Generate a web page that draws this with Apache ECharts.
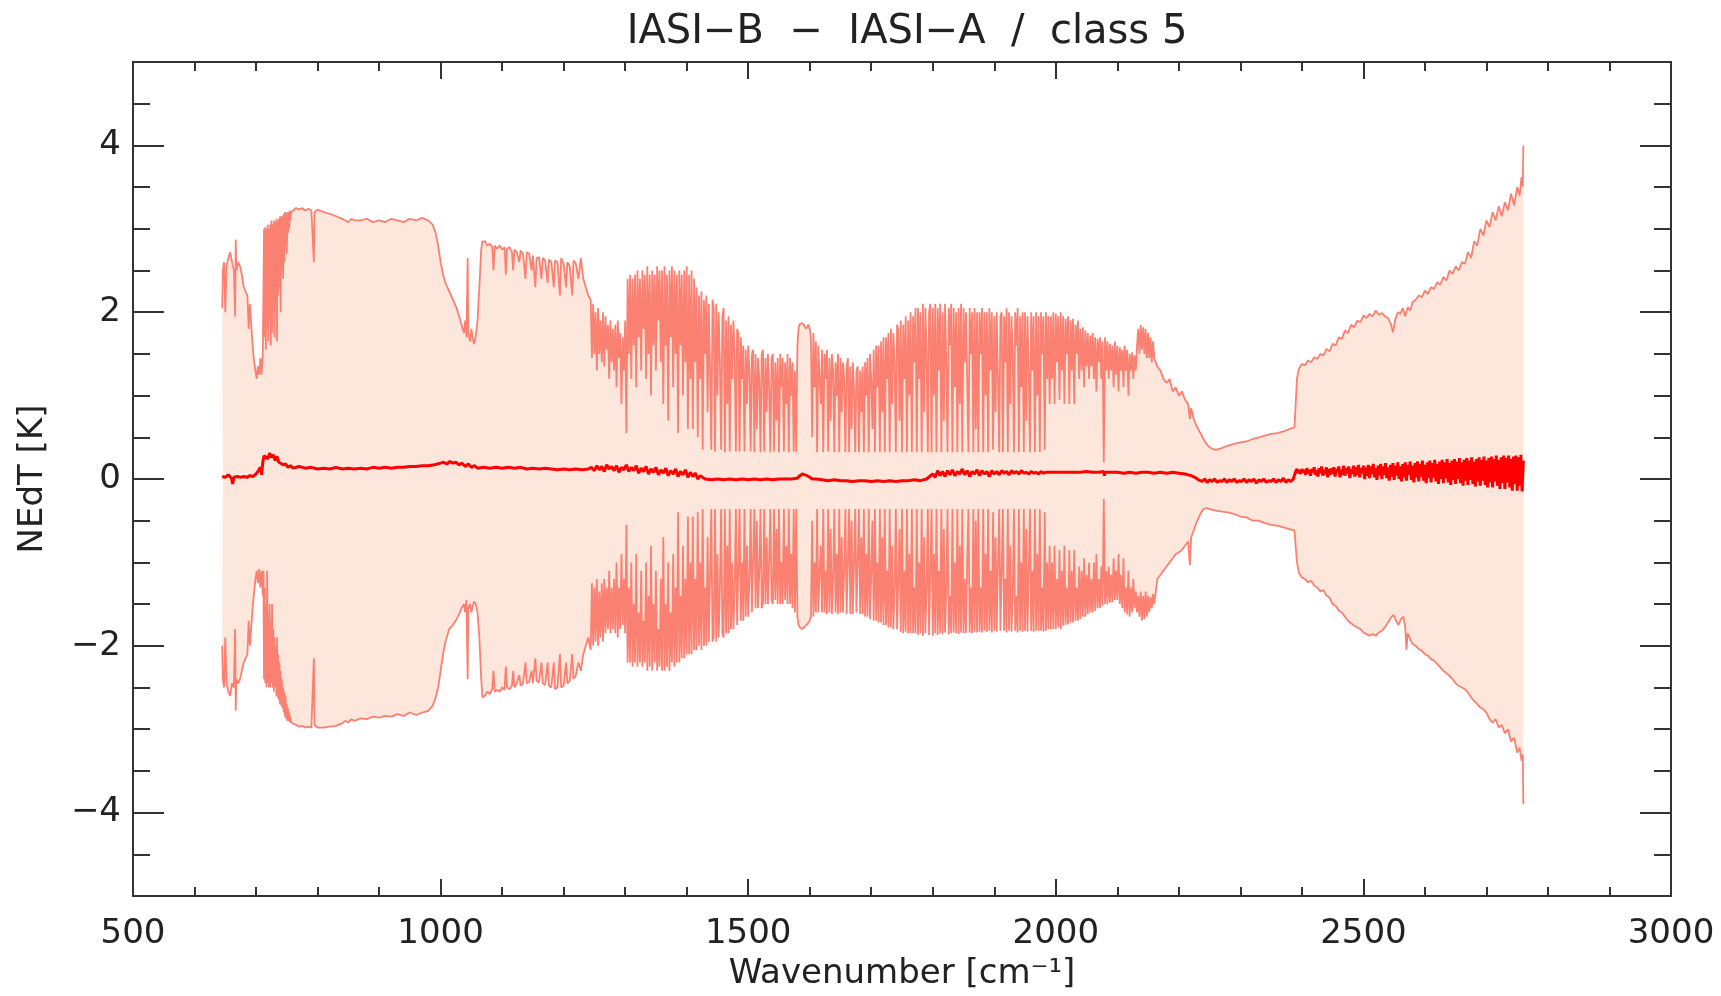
<!DOCTYPE html>
<html>
<head>
<meta charset="utf-8">
<title>IASI-B - IASI-A / class 5</title>
<script src="https://cdn.jsdelivr.net/npm/echarts@6/dist/echarts.min.js"></script>
<style>
  html, body { margin: 0; padding: 0; background: #fff; }
  #chart { width: 1721px; height: 996px; }
</style>
</head>
<body>
<div id="chart"></div>
<script>
// NEdT [K] against wavenumber [cm-1].
// smooth stretches are [x, y] pairs, dense line bands are y lists on a fixed wavenumber grid

var upperA = [
  [645,2.05],[646,2.5],[648,2.6],[650,2.0],[652,2.55],[655,2.65],[658,2.72],[661,2.6],[664,2.5],[666,1.95],[667,2.87],[668,2.5],[671,2.6],[674,2.55],[677,2.45],[680,2.3],[683,2.25],[686,2.2],[688,1.8],[690,2.1],[693,1.75],[695,1.55],[697,1.4],[699,1.3],[701,1.2],[703,1.35],[705,1.25],[707,1.45],[709,1.25],[711,1.5]
];
// 712..758, step 1
var upperBand1 = [
  1.5,3.0,1.7,3.02,1.55,3.0,1.8,3.05,1.65,3.0,
  1.9,3.05,1.6,3.1,1.75,3.05,2.0,3.1,1.7,3.08,
  2.1,3.12,1.65,3.1,2.2,3.12,2.3,3.15,2.0,3.15,
  2.5,3.15,2.4,3.18,2.6,3.2,2.8,3.18,2.7,3.2,
  2.95,3.2,3.0,3.22,3.1,3.2,3.22
];
var upperB = [
  [760,3.2],[765,3.25],[770,3.23],[775,3.25],[780,3.22],[785,3.24],[790,3.22],[793,3.2],[794,2.6],[795,3.2],[800,3.23],[810,3.2],[820,3.18],[830,3.15],[840,3.12],[845,3.1],[850,3.08],[855,3.12],[860,3.1],[870,3.1],[880,3.12],[890,3.08],[900,3.1],[910,3.08],[920,3.12],[930,3.1],[940,3.08],[950,3.12],[960,3.1],[970,3.13],[980,3.1],[987,3.05],
  [992,2.95],[996,2.8],[1000,2.6],[1004,2.45],[1008,2.35],[1014,2.25],[1020,2.15],[1026,2.05],[1030,1.95],[1034,1.85],[1038,1.75],[1040,1.9],[1042,1.7],[1044,2.65],[1045,1.75],[1048,1.65],[1050,1.8],[1054,1.62],[1057,1.7],[1060,1.9],[1063,2.3],[1066,2.75],[1068,2.85],
  [1072,2.85],[1076,2.8],[1080,2.82],[1084,2.78],[1086,2.5],[1088,2.8],[1092,2.76],[1096,2.8],[1100,2.75],[1104,2.78],[1106,2.45],[1108,2.76],[1112,2.78],[1116,2.72],[1118,2.5],[1120,2.75],[1124,2.72],[1128,2.6],[1130,2.74],[1134,2.7],[1138,2.4],[1140,2.72],[1144,2.7],[1148,2.5],[1150,2.68],[1154,2.3],[1156,2.65],[1160,2.66],[1164,2.4],[1166,2.65],[1170,2.62],[1174,2.35],[1176,2.63],[1180,2.6],[1184,2.3],[1186,2.62],[1190,2.6],[1194,2.2],[1196,2.65],[1200,2.58],[1204,2.3],[1206,2.6],[1210,2.55],[1214,2.2],[1216,2.62],[1220,2.58],[1224,2.4],[1228,2.65],[1232,2.4],[1236,2.3],[1240,2.2]
];
// 1244..2160, step 2
var upperBand2 = [
  2.15,1.45,2.1,1.5,2.0,1.3,2.05,1.5,1.9,1.4,
  2.0,1.35,1.95,1.55,1.85,1.2,1.9,1.4,1.8,1.3,
  1.85,1.1,1.9,1.45,1.75,0.9,1.7,1.3,1.9,0.55,
  2.4,1.5,2.45,1.2,2.4,1.6,2.45,1.1,2.5,1.7,
  2.4,1.3,2.5,1.8,2.45,1.2,2.55,1.5,2.45,1.0,
  2.5,1.6,2.45,1.3,2.55,1.9,2.5,1.4,2.5,0.9,
  2.55,1.6,2.45,0.7,2.5,1.7,2.55,1.1,2.5,1.5,
  2.45,0.55,2.5,1.6,2.45,1.0,2.5,1.4,2.55,0.6,
  2.45,1.2,2.5,0.6,2.4,1.4,2.3,0.5,2.2,1.2,
  2.25,0.35,2.15,1.5,2.2,0.8,2.1,1.3,0.35,2.15,
  2.05,0.33,2.1,1.0,2.0,1.4,0.35,1.95,2.05,0.32,
  1.9,0.9,1.95,0.33,1.85,1.2,1.9,1.5,0.33,1.8,
  1.75,0.33,1.7,1.2,1.6,0.33,1.55,0.9,1.6,1.3,
  0.33,1.5,1.55,0.32,1.5,0.6,1.45,1.2,0.32,1.5,
  1.55,0.33,1.45,0.8,1.5,1.1,0.32,1.45,1.5,0.33,
  1.4,0.7,1.45,0.32,1.5,1.1,1.45,0.33,1.4,0.9,
  1.5,0.32,1.45,1.0,1.4,0.33,1.3,0.32,1.6,1.82,
  1.86,1.88,1.87,1.85,1.83,1.8,1.82,1.85,1.8,1.7,
  0.5,1.75,1.1,1.65,0.32,1.6,1.2,0.9,1.55,0.32,
  1.5,1.2,1.55,0.33,1.45,0.7,1.5,1.3,0.32,1.4,
  1.0,1.5,0.32,1.45,0.8,1.4,1.2,0.32,1.35,1.45,
  0.32,1.35,0.6,1.4,1.1,0.32,1.3,1.35,0.32,1.3,
  0.8,1.35,0.32,1.4,1.0,1.45,0.32,1.5,1.2,0.6,
  1.55,0.32,1.6,1.1,1.6,0.32,1.65,0.8,1.7,0.32,
  1.7,1.2,1.75,0.32,1.8,0.9,1.75,1.4,0.32,1.85,
  1.8,0.7,1.9,0.32,1.85,1.2,1.95,0.32,1.9,1.0,
  2.0,0.32,1.95,1.4,2.05,0.32,2.05,1.2,2.0,0.32,
  2.1,0.8,2.05,1.5,0.32,2.0,2.1,0.32,2.05,1.0,
  2.1,0.32,2.05,1.3,2.1,0.32,2.0,0.7,2.1,1.4,
  0.32,2.05,1.6,2.1,0.32,2.05,1.1,2.0,0.32,2.05,
  0.9,2.1,0.32,2.05,1.4,2.0,1.2,0.32,2.05,1.5,
  2.0,0.32,2.05,0.6,2.0,0.32,2.0,1.5,2.05,0.32,
  2.0,1.0,2.0,0.32,2.05,1.3,2.0,0.35,1.95,0.8,
  2.0,1.2,0.32,1.95,2.0,0.32,1.95,1.4,2.05,0.32,
  2.0,0.9,1.95,1.5,0.32,2.0,1.6,2.05,0.32,1.95,
  1.1,2.0,0.32,2.0,0.7,1.95,1.3,0.32,2.0,1.3,
  1.95,0.32,2.0,1.0,1.95,0.32,2.0,1.5,1.95,0.35,
  2.0,1.2,1.95,0.9,1.95,1.2,2.0,0.9,1.98,1.4,
  1.95,0.95,2.0,1.3,1.95,0.9,1.92,1.5,1.95,0.9,
  1.9,1.3,1.92,0.9,1.85,1.5,1.9,1.2,1.8,1.3,
  1.82,1.1,1.78,1.35,1.75,1.2,1.72,1.35,1.75,1.2,
  1.7,1.05,1.68,1.4,1.7,1.2,1.65,0.2,1.7,1.3,
  1.65,1.2,1.62,1.3,1.6,1.1,1.65,1.25,1.6,1.05,
  1.58,1.3,1.55,1.1,1.6,1.3,1.55,1.0,1.5,1.3,
  1.52,1.2,1.48,1.3,1.6,1.8,1.5,1.85,1.55,1.82,
  1.5,1.8,1.45,1.75,1.45,1.7,1.4,1.65,1.45
];
var upperC = [
  [2165,1.35],[2170,1.3],[2175,1.2],[2180,1.15],[2185,1.2],[2190,1.05],[2195,1.1],[2200,1.0],[2205,1.05],[2210,0.95],[2215,0.9],[2218,0.72],[2220,0.85],[2225,0.7],[2230,0.62],[2235,0.55],[2240,0.48],[2245,0.42],[2250,0.38],[2255,0.36],[2260,0.35],
  [2270,0.37],[2280,0.4],[2290,0.42],[2300,0.44],[2310,0.45],[2320,0.48],[2330,0.5],[2340,0.52],[2350,0.54],[2360,0.55],[2370,0.57],[2380,0.6],[2388,0.62],
  [2392,1.2],[2395,1.32],[2400,1.38],[2405,1.36],[2410,1.42],[2415,1.4],[2420,1.46],[2425,1.44],[2430,1.5],[2435,1.48],[2440,1.56],[2445,1.53],[2450,1.62],[2455,1.6],[2460,1.7],[2465,1.68],[2470,1.78],[2475,1.75],[2480,1.85],[2485,1.82],[2490,1.9],[2495,1.88],[2500,1.96],[2505,1.93],[2510,1.98],[2515,1.95],[2520,2.02],[2525,1.97],[2530,1.99],[2535,1.95],[2540,1.93],[2545,1.85],[2548,1.76],[2552,1.92],[2556,2.0],[2560,1.98],[2564,2.05],[2568,1.95],[2572,2.06],[2576,2.02],[2580,2.12],[2585,2.15],[2590,2.2],[2595,2.18],[2600,2.26],[2605,2.22],[2610,2.3],[2615,2.28],[2620,2.36],[2625,2.33],[2630,2.42],[2635,2.38],[2640,2.5],[2645,2.46],[2650,2.55],[2655,2.5],[2660,2.6],[2665,2.58],[2670,2.72],[2675,2.65],[2680,2.85],[2685,2.8],[2690,3.0],[2695,2.92],[2700,3.1],[2705,3.02],[2710,3.2],[2715,3.1],[2720,3.27],[2725,3.15],[2730,3.32],[2735,3.22],[2740,3.42],[2745,3.28],[2750,3.5],[2754,3.4],[2757,3.62],[2759,3.5],[2760,4.0]
];

var lowerA = [
  [645,-2.0],[646,-2.4],[648,-2.5],[650,-1.9],[652,-2.45],[655,-2.55],[658,-2.6],[661,-2.45],[664,-2.5],[666,-1.8],[667,-2.78],[668,-2.4],[671,-2.45],[674,-2.4],[677,-2.3],[680,-2.2],[683,-2.15],[686,-2.1],[688,-1.7],[690,-2.0],[693,-1.7],[695,-1.5],[697,-1.35],[699,-1.2],[701,-1.1],[703,-1.25],[705,-1.08],[707,-1.3],[709,-1.1],[711,-1.4]
];
// 712..758, step 1
var lowerBand1 = [
  -1.1,-2.4,-1.3,-2.45,-1.5,-2.5,-1.1,-2.45,-1.6,-2.5,
  -1.5,-2.5,-1.7,-2.45,-1.5,-2.5,-1.8,-2.55,-1.9,-2.5,
  -2.0,-2.6,-1.9,-2.62,-2.1,-2.65,-2.2,-2.7,-2.3,-2.72,
  -2.4,-2.75,-2.5,-2.8,-2.55,-2.85,-2.6,-2.88,-2.7,-2.9,
  -2.75,-2.9,-2.8,-2.92,-2.85,-2.92,-2.93
];
var lowerB = [
  [760,-2.93],[765,-2.95],[770,-2.97],[775,-2.96],[780,-2.98],[785,-2.97],[790,-2.98],[793,-2.96],[794,-2.15],[795,-2.95],[800,-2.98],[810,-2.98],[820,-2.97],[830,-2.96],[840,-2.93],[845,-2.9],[850,-2.92],[855,-2.88],[860,-2.9],[870,-2.87],[880,-2.88],[890,-2.85],[900,-2.86],[910,-2.84],[920,-2.85],[930,-2.82],[940,-2.84],[950,-2.8],[960,-2.83],[970,-2.8],[980,-2.78],[987,-2.72],
  [992,-2.62],[996,-2.5],[1000,-2.3],[1004,-2.1],[1008,-1.95],[1014,-1.8],[1020,-1.75],[1026,-1.68],[1030,-1.62],[1034,-1.55],[1038,-1.5],[1040,-1.6],[1042,-1.45],[1044,-2.4],[1045,-1.55],[1048,-1.5],[1050,-1.6],[1054,-1.47],[1057,-1.5],[1060,-1.6],[1063,-1.9],[1066,-2.4],[1068,-2.62],
  [1072,-2.6],[1076,-2.55],[1080,-2.58],[1084,-2.52],[1086,-2.3],[1088,-2.55],[1092,-2.53],[1096,-2.55],[1100,-2.5],[1104,-2.53],[1106,-2.25],[1108,-2.5],[1112,-2.52],[1116,-2.48],[1118,-2.3],[1120,-2.5],[1124,-2.45],[1128,-2.35],[1130,-2.48],[1134,-2.45],[1138,-2.2],[1140,-2.45],[1144,-2.43],[1148,-2.3],[1150,-2.45],[1154,-2.15],[1156,-2.42],[1160,-2.44],[1164,-2.2],[1166,-2.45],[1170,-2.47],[1174,-2.2],[1176,-2.48],[1180,-2.5],[1184,-2.2],[1186,-2.52],[1190,-2.5],[1194,-2.1],[1196,-2.5],[1200,-2.48],[1204,-2.2],[1206,-2.45],[1210,-2.42],[1214,-2.1],[1216,-2.4],[1220,-2.35],[1224,-2.2],[1228,-2.3],[1232,-2.1],[1236,-2.0],[1240,-1.9]
];
// 1244..2160, step 2
var lowerBand2 = [
  -2.05,-1.25,-2.0,-1.3,-1.95,-1.2,-2.0,-1.35,-1.9,-1.25,
  -1.95,-1.2,-1.85,-1.3,-1.8,-1.1,-1.85,-1.3,-1.8,-1.2,
  -1.85,-1.0,-1.9,-1.3,-1.8,-0.9,-1.75,-1.2,-1.85,-0.55,
  -2.2,-1.3,-2.2,-1.0,-2.25,-1.5,-2.2,-0.9,-2.25,-1.6,
  -2.2,-1.1,-2.25,-1.7,-2.2,-1.0,-2.3,-1.4,-2.25,-0.8,
  -2.3,-1.5,-2.2,-1.1,-2.3,-1.8,-2.25,-1.2,-2.3,-0.7,
  -2.3,-1.5,-2.25,-1.0,-2.3,-1.6,-2.2,-0.9,-2.25,-1.3,
  -2.2,-0.4,-2.2,-1.4,-2.15,-0.8,-2.15,-1.2,-2.1,-0.45,
  -2.1,-1.0,-2.1,-0.45,-2.05,-1.2,-2.05,-0.4,-2.0,-1.0,
  -2.05,-0.36,-2.0,-1.3,-2.0,-0.7,-1.95,-1.2,-0.36,-1.95,
  -1.9,-0.36,-1.95,-0.9,-1.9,-1.3,-0.36,-1.85,-1.9,-0.36,
  -1.85,-0.8,-1.85,-0.36,-1.8,-1.0,-1.8,-1.3,-0.36,-1.75,
  -1.75,-0.36,-1.7,-1.0,-1.7,-0.36,-1.65,-0.8,-1.65,-1.2,
  -0.36,-1.6,-1.6,-0.36,-1.55,-0.5,-1.55,-1.1,-0.36,-1.55,
  -1.5,-0.36,-1.5,-0.7,-1.5,-1.0,-0.36,-1.45,-1.5,-0.36,
  -1.45,-0.6,-1.5,-0.36,-1.5,-1.0,-1.5,-0.36,-1.45,-0.8,
  -1.5,-0.36,-1.5,-0.9,-1.55,-0.36,-1.6,-0.36,-1.65,-1.75,
  -1.78,-1.8,-1.8,-1.78,-1.77,-1.75,-1.74,-1.72,-1.7,-1.65,
  -0.5,-1.65,-1.0,-1.6,-0.36,-1.6,-1.1,-0.8,-1.6,-0.36,
  -1.6,-1.1,-1.62,-0.36,-1.6,-0.6,-1.62,-1.2,-0.36,-1.6,
  -0.9,-1.62,-0.36,-1.6,-0.7,-1.6,-1.1,-0.36,-1.62,-1.6,
  -0.36,-1.62,-0.5,-1.62,-1.0,-0.36,-1.6,-1.62,-0.36,-1.62,
  -0.7,-1.62,-0.36,-1.65,-0.9,-1.65,-0.36,-1.68,-1.1,-0.5,
  -1.7,-0.36,-1.7,-1.0,-1.72,-0.36,-1.72,-0.7,-1.75,-0.36,
  -1.75,-1.1,-1.78,-0.36,-1.78,-0.8,-1.8,-1.3,-0.36,-1.8,
  -1.82,-0.6,-1.83,-0.36,-1.85,-1.1,-1.83,-0.36,-1.85,-0.9,
  -1.85,-0.36,-1.85,-1.3,-1.85,-0.36,-1.87,-1.0,-1.85,-0.36,
  -1.88,-0.7,-1.85,-1.3,-0.36,-1.87,-1.86,-0.36,-1.88,-0.9,
  -1.85,-0.36,-1.87,-1.1,-1.85,-0.36,-1.86,-0.6,-1.84,-1.3,
  -0.36,-1.86,-1.4,-1.85,-0.36,-1.84,-1.0,-1.85,-0.36,-1.86,
  -0.8,-1.84,-0.36,-1.85,-1.2,-1.85,-1.0,-0.36,-1.84,-1.3,
  -1.85,-0.36,-1.83,-0.5,-1.84,-0.36,-1.83,-1.3,-1.84,-0.36,
  -1.82,-0.9,-1.83,-0.36,-1.82,-1.1,-1.84,-0.4,-1.82,-0.7,
  -1.83,-1.0,-0.36,-1.82,-1.83,-0.36,-1.82,-1.2,-1.84,-0.36,
  -1.82,-0.8,-1.83,-1.4,-0.36,-1.82,-1.4,-1.84,-0.36,-1.82,
  -1.0,-1.83,-0.36,-1.82,-0.6,-1.83,-1.1,-0.36,-1.82,-1.1,
  -1.83,-0.36,-1.82,-0.9,-1.82,-0.36,-1.82,-1.3,-1.83,-0.4,
  -1.82,-1.0,-1.8,-0.8,-1.8,-1.0,-1.8,-0.8,-1.8,-1.2,
  -1.78,-0.85,-1.8,-1.1,-1.76,-0.8,-1.75,-1.3,-1.74,-0.85,
  -1.72,-1.1,-1.72,-0.85,-1.7,-1.3,-1.7,-1.05,-1.68,-1.1,
  -1.65,-0.95,-1.65,-1.15,-1.62,-1.0,-1.6,-1.2,-1.6,-1.0,
  -1.58,-0.9,-1.55,-1.2,-1.55,-1.05,-1.52,-0.24,-1.5,-1.1,
  -1.5,-1.05,-1.48,-1.15,-1.48,-0.95,-1.45,-1.1,-1.45,-0.9,
  -1.5,-1.15,-1.55,-0.95,-1.6,-1.3,-1.62,-1.1,-1.65,-1.3,
  -1.6,-1.2,-1.55,-1.35,-1.6,-1.4,-1.65,-1.35,-1.7,-1.4,
  -1.68,-1.35,-1.65,-1.4,-1.6,-1.42,-1.55,-1.38,-1.5
];
var lowerC = [
  [2165,-1.2],[2170,-1.15],[2175,-1.1],[2180,-1.05],[2185,-1.0],[2190,-0.95],[2195,-0.9],[2200,-0.88],[2205,-0.85],[2210,-0.8],[2215,-0.75],[2218,-1.03],[2220,-0.7],[2225,-0.6],[2230,-0.5],[2235,-0.42],[2240,-0.36],[2245,-0.35],[2250,-0.36],[2255,-0.37],[2260,-0.38],
  [2270,-0.39],[2280,-0.4],[2290,-0.42],[2300,-0.45],[2310,-0.46],[2320,-0.5],[2330,-0.5],[2340,-0.53],[2350,-0.55],[2360,-0.56],[2370,-0.58],[2380,-0.6],[2388,-0.62],
  [2392,-1.0],[2395,-1.12],[2400,-1.18],[2405,-1.2],[2410,-1.24],[2415,-1.22],[2420,-1.28],[2425,-1.3],[2430,-1.35],[2435,-1.33],[2440,-1.4],[2445,-1.42],[2450,-1.5],[2455,-1.52],[2460,-1.58],[2465,-1.6],[2470,-1.65],[2475,-1.7],[2480,-1.73],[2485,-1.76],[2490,-1.78],[2495,-1.8],[2500,-1.84],[2505,-1.86],[2510,-1.88],[2515,-1.86],[2520,-1.88],[2525,-1.84],[2530,-1.82],[2535,-1.78],[2540,-1.72],[2545,-1.66],[2549,-1.63],[2553,-1.7],[2557,-1.75],[2561,-1.68],[2565,-1.65],[2568,-1.78],[2570,-2.05],[2572,-1.85],[2576,-1.92],[2580,-1.98],[2585,-2.0],[2590,-2.04],[2595,-2.06],[2600,-2.1],[2605,-2.12],[2610,-2.16],[2615,-2.18],[2620,-2.22],[2625,-2.26],[2630,-2.3],[2635,-2.33],[2640,-2.36],[2645,-2.4],[2650,-2.45],[2655,-2.48],[2660,-2.5],[2665,-2.52],[2670,-2.56],[2675,-2.62],[2680,-2.66],[2685,-2.7],[2690,-2.74],[2695,-2.76],[2700,-2.8],[2705,-2.88],[2710,-2.92],[2715,-2.88],[2720,-2.98],[2725,-2.95],[2730,-3.05],[2735,-3.0],[2740,-3.15],[2745,-3.1],[2750,-3.28],[2754,-3.22],[2757,-3.38],[2759,-3.3],[2760,-3.9]
];

var meanA = [
  [645,0.03],[650,0.02],[655,0.05],[660,0.01],[662,-0.06],[664,0.02],[670,0.03],[675,0.02],[680,0.03],[685,0.02],[690,0.04],[695,0.03],[700,0.06],[704,0.1],[707,0.14],[709,0.05],[711,0.2],[713,0.28],[716,0.3],[719,0.24],[722,0.31],[725,0.26],[728,0.29],[731,0.22],[734,0.27],[737,0.2],[740,0.22],[744,0.17],[748,0.18],[752,0.14],[756,0.16],[760,0.13],
  [770,0.15],[780,0.13],[790,0.14],[800,0.12],[810,0.13],[820,0.12],[830,0.14],[840,0.12],[850,0.13],[860,0.12],[870,0.13],[880,0.12],[890,0.14],[900,0.13],[910,0.14],[920,0.13],[930,0.14],[940,0.14],[950,0.15],[960,0.15],[970,0.16],[980,0.16],[990,0.17],[1000,0.19],[1005,0.2],[1010,0.18],[1015,0.21],[1020,0.19],[1025,0.2],[1030,0.17],[1035,0.19],[1040,0.15],[1045,0.18],[1050,0.14],[1055,0.16],[1060,0.13],
  [1070,0.14],[1080,0.13],[1090,0.14],[1100,0.13],[1110,0.14],[1120,0.13],[1130,0.14],[1140,0.12],[1150,0.13],[1160,0.12],[1170,0.13],[1180,0.12],[1190,0.11],[1200,0.12],[1210,0.11],[1220,0.12],[1230,0.11],[1240,0.12],
  [1245,0.14],[1250,0.1],[1254,0.16],[1258,0.11],[1262,0.15],[1266,0.09],[1270,0.17],[1274,0.12],[1278,0.15],[1282,0.1],[1286,0.16],[1290,0.08],[1294,0.14],[1298,0.11],[1302,0.17],[1306,0.09],[1310,0.14],[1314,0.1],[1318,0.16],[1322,0.07],[1326,0.13],[1330,0.09],[1334,0.15],[1338,0.06],[1342,0.12],[1346,0.08],[1350,0.14],[1354,0.05],[1358,0.11],[1362,0.07],[1366,0.13],[1370,0.04],[1374,0.1],[1378,0.06],[1382,0.12],[1386,0.03],[1390,0.09],[1394,0.05],[1398,0.11],[1402,0.02],[1406,0.08],[1410,0.03],[1414,0.07],[1418,0.0],[1422,0.04],
  [1430,0.0],[1440,-0.01],[1450,0.0],[1460,-0.01],[1470,0.0],[1480,-0.01],[1490,0.0],[1500,-0.01],[1510,0.0],[1520,-0.01],[1530,0.0],[1540,-0.01],[1550,0.0],[1560,0.0],[1570,0.0],[1580,0.01],[1584,0.04],[1588,0.06],[1592,0.05],[1596,0.04],[1600,0.02],[1604,0.0],[1610,0.0],
  [1620,-0.01],[1630,-0.02],[1640,-0.01],[1650,-0.02],[1660,-0.02],[1670,-0.03],[1680,-0.02],[1690,-0.02],[1700,-0.03],[1710,-0.02],[1720,-0.03],[1730,-0.02],[1740,-0.03],[1750,-0.02],[1760,-0.02],[1770,-0.01],[1780,-0.02],[1790,0.0],
  [1795,0.03],[1800,0.06],[1804,0.02],[1808,0.1],[1812,0.04],[1816,0.09],[1820,0.03],[1824,0.1],[1828,0.05],[1832,0.11],[1836,0.04],[1840,0.09],[1844,0.06],[1848,0.12],[1852,0.05],[1856,0.1],[1860,0.03],[1864,0.09],[1868,0.06],[1872,0.11],[1876,0.04],[1880,0.1],[1884,0.06],[1888,0.09],[1892,0.03],[1896,0.1],[1900,0.06],[1904,0.09],[1908,0.05],[1912,0.1],[1916,0.07],[1920,0.09],[1924,0.05],[1928,0.1],[1932,0.07],[1936,0.09],[1940,0.06],[1944,0.1],[1948,0.07],[1952,0.08],[1956,0.06],[1960,0.09],[1964,0.07],[1968,0.08],[1972,0.06],[1976,0.09],[1980,0.07],[1984,0.08],
  [1990,0.08],[2000,0.08],[2010,0.08],[2020,0.08],[2030,0.08],[2040,0.08],[2050,0.09],[2060,0.08],[2070,0.08],[2078,0.09],[2079,0.04],[2080,0.08],[2090,0.08],[2100,0.08],[2110,0.07],[2120,0.08],[2130,0.07],[2140,0.08],[2150,0.08],[2160,0.07],[2170,0.08],[2180,0.07],[2190,0.08],[2200,0.07],[2210,0.06],[2220,0.04],[2226,0.02],[2232,-0.01],
  [2238,-0.03],[2242,0.0],[2246,-0.04],[2250,-0.01],[2254,-0.03],[2258,0.0],[2262,-0.04],[2266,-0.02],[2270,-0.03],[2274,0.0],[2278,-0.04],[2282,-0.01],[2286,-0.03],[2290,0.0],[2294,-0.04],[2298,-0.02],[2302,-0.03],[2306,0.0],[2310,-0.04],[2314,-0.01],[2318,-0.03],[2322,0.0],[2326,-0.05],[2330,-0.01],[2334,-0.03],[2338,0.0],[2342,-0.04],[2346,-0.02],[2350,-0.03],[2354,0.0],[2358,-0.04],[2362,-0.01],[2366,-0.03],[2370,0.01],[2374,-0.04],[2378,-0.01],[2382,-0.03],[2386,0.0]
];
// 2390..2760, step 2
var meanBand = [
  0.09,0.12,0.07,0.11,0.06,0.12,0.08,0.11,0.05,0.13,
  0.07,0.11,0.04,0.12,0.08,0.14,0.05,0.1,0.03,0.13,
  0.07,0.15,0.04,0.11,0.06,0.14,0.02,0.12,0.05,0.13,
  0.06,0.14,0.03,0.12,0.08,0.15,0.02,0.11,0.05,0.16,
  0.04,0.13,0.07,0.15,0.01,0.12,0.06,0.16,0.03,0.14,
  0.05,0.17,0.02,0.13,0.07,0.16,0.0,0.14,0.04,0.17,
  0.01,0.15,0.06,0.18,0.02,0.13,-0.01,0.16,0.04,0.18,
  0.0,0.15,0.05,0.19,0.01,0.14,-0.02,0.17,0.03,0.19,
  -0.01,0.16,0.04,0.2,0.0,0.15,-0.03,0.18,0.02,0.2,
  -0.02,0.17,0.05,0.21,-0.01,0.16,-0.04,0.19,0.02,0.21,
  -0.03,0.18,0.03,0.22,-0.02,0.17,-0.05,0.2,0.01,0.22,
  -0.04,0.19,0.02,0.23,-0.03,0.18,-0.06,0.21,0.0,0.23,
  -0.05,0.2,0.01,0.24,-0.04,0.19,-0.07,0.22,-0.01,0.24,
  -0.06,0.21,0.0,0.25,-0.05,0.2,-0.08,0.23,-0.02,0.25,
  -0.07,0.22,-0.01,0.26,-0.06,0.21,-0.09,0.24,-0.03,0.26,
  -0.08,0.23,-0.02,0.27,-0.07,0.22,-0.1,0.25,-0.04,0.27,
  -0.1,0.24,-0.03,0.28,-0.08,0.23,-0.12,0.26,-0.05,0.28,
  -0.12,0.25,-0.04,0.28,-0.1,0.24,-0.14,0.27,-0.06,0.28,
  -0.14,0.26,-0.08,0.29,-0.15,0.22
];

var yMajorTicks = [-4, -2, 0, 2, 4];

var fontFam = 'DejaVu Sans';
var axisCol = '#333333';
var envCol = '#FA8072';   // salmon envelope
var fillCol = '#FDE6DC';  // light fill between envelopes

// put a y list on its wavenumber grid
function onGrid(x0, dx, ys) {
  var out = [];
  for (var i = 0; i < ys.length; i++) out.push([x0 + i * dx, ys[i]]);
  return out;
}

var upperEnv = upperA.concat(onGrid(712, 1, upperBand1), upperB, onGrid(1244, 2, upperBand2), upperC);
var lowerEnv = lowerA.concat(onGrid(712, 1, lowerBand1), lowerB, onGrid(1244, 2, lowerBand2), lowerC);
var meanDiff = meanA.concat(onGrid(2390, 2, meanBand));

var chart = echarts.init(document.getElementById('chart'), null, { renderer: 'canvas' });

function xAx(pos, showLabel) {
  return {
    type: 'value', position: pos, min: 500, max: 3000, interval: 500,
    name: showLabel ? 'Wavenumber [cm\u207B\u00B9]' : '',
    nameLocation: 'middle', nameGap: 61,
    nameTextStyle: { fontFamily: fontFam, fontSize: 34, color: '#222' },
    axisLine: { show: true, onZero: false, lineStyle: { color: axisCol, width: 2 } },
    axisTick: { show: true, inside: true, length: 17, lineStyle: { color: axisCol, width: 2 } },
    minorTick: { show: true, splitNumber: 5, length: 9, lineStyle: { color: axisCol, width: 2 } },
    axisLabel: { show: showLabel, fontFamily: fontFam, fontSize: 34, color: '#222', margin: 21,
      formatter: function (v) { return String(v); } },
    splitLine: { show: false }
  };
}

// minor ticks every 0.5 K
function yMinor(pos) {
  return {
    type: 'value', position: pos, min: -5, max: 5, interval: 0.5,
    axisLine: { show: true, onZero: false, lineStyle: { color: axisCol, width: 2 } },
    axisTick: { show: true, inside: true, length: 17, lineStyle: { color: axisCol, width: 2 } },
    axisLabel: { show: false },
    splitLine: { show: false }
  };
}

// major ticks and labels every 2 K
function yMajor(pos, showLabel) {
  return {
    type: 'value', position: pos, min: -5, max: 5, interval: 1,
    name: showLabel ? 'NEdT [K]' : '',
    nameLocation: 'middle', nameGap: 83,
    nameTextStyle: { fontFamily: fontFam, fontSize: 34, color: '#222' },
    axisLine: { show: false },
    axisTick: { show: true, inside: true, length: 31, customValues: yMajorTicks, lineStyle: { color: axisCol, width: 2 } },
    axisLabel: { show: showLabel, customValues: yMajorTicks, fontFamily: fontFam, fontSize: 34, color: '#222', margin: 12,
      formatter: function (v) { return v < 0 ? '\u2212' + Math.abs(v) : String(v); } },
    splitLine: { show: false }
  };
}

var option = {
  backgroundColor: '#ffffff',
  animation: false,
  title: {
    text: 'IASI\u2212B  \u2212  IASI\u2212A  /  class 5',
    left: 902, top: 8, textAlign: 'center',
    textStyle: { fontFamily: fontFam, fontSize: 40, fontWeight: 'normal', color: '#222' }
  },
  grid: { left: 133, right: 50, top: 62, bottom: 98, containLabel: false },
  xAxis: [xAx('bottom', true), xAx('top', false)],
  yAxis: [yMinor('left'), yMajor('left', true), yMinor('right'), yMajor('right', false)],
  series: [
    {
      name: 'upper', type: 'line', data: upperEnv, xAxisIndex: 0, yAxisIndex: 0,
      showSymbol: false, symbol: 'none',
      lineStyle: { color: envCol, width: 1.8 },
      areaStyle: { color: fillCol, opacity: 1, origin: 'auto' }
    },
    {
      name: 'lower', type: 'line', data: lowerEnv, xAxisIndex: 0, yAxisIndex: 0,
      showSymbol: false, symbol: 'none',
      lineStyle: { color: envCol, width: 1.8 },
      areaStyle: { color: fillCol, opacity: 1, origin: 'auto' }
    },
    {
      name: 'mean', type: 'line', data: meanDiff, xAxisIndex: 0, yAxisIndex: 0,
      showSymbol: false, symbol: 'none',
      lineStyle: { color: '#FF0000', width: 3 }
    }
  ]
};

chart.setOption(option);
</script>
</body>
</html>
